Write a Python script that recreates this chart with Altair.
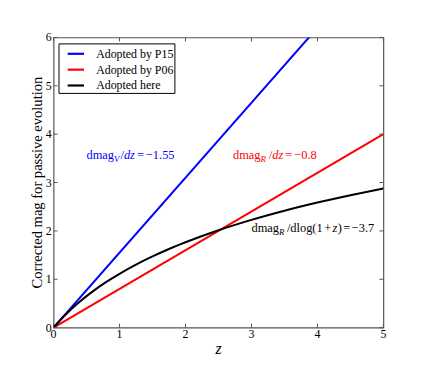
import altair as alt
import pandas as pd

# ---------------- data ----------------
series_names = ["Adopted by P15", "Adopted by P06", "Adopted here"]
series_colors = ["#0000ff", "#ff0000", "#000000"]

p15_z = [0.0, 5.0]
p15_mag = [0.0, 7.75]

p06_z = [0.0, 5.0]
p06_mag = [0.0, 4.0]

here_z = [0.0, 0.1, 0.2, 0.3, 0.4, 0.5, 0.6, 0.8, 1.0, 1.25, 1.5, 1.75,
          2.0, 2.5, 3.0, 3.5, 4.0, 4.5, 5.0]
here_mag = [0.0, 0.153, 0.293, 0.422, 0.541, 0.652, 0.755, 0.945, 1.114,
            1.303, 1.472, 1.626, 1.765, 2.013, 2.228, 2.417, 2.586, 2.739, 2.879]

x_ticks = [0, 1, 2, 3, 4, 5]
y_ticks = [0, 1, 2, 3, 4, 5, 6]
x_title = "z"
y_title = "Corrected mag for passive evolution"

# annotations: anchor (z, mag), colour, segments (text, italic, subscript, gap before in px)
ann_anchor_z = [0.50, 2.72, 3.00]
ann_anchor_mag = [3.56, 3.56, 2.05]
ann_colors = ["#0000ff", "#ff0000", "#000000"]
ann_segments = [
    [("dmag", False, False, 0), ("V", True, True, 0), ("/", False, False, 1),
     ("dz", True, False, 0), ("=", False, False, 2), ("\u22121.55", False, False, 2)],
    [("dmag", False, False, 0), ("R", True, True, 0), ("/", False, False, 3),
     ("dz", True, False, 0), ("=", False, False, 2), ("\u22120.8", False, False, 2)],
    [("dmag", False, False, 0), ("R", True, True, 0), ("/dlog(1", False, False, 2.5),
     ("+", False, False, 1.5), ("z", True, False, 1.5), (")", False, False, 0.3),
     ("=", False, False, 1.5), ("\u22123.7", False, False, 1.5)],
]

# ---------------- layout ----------------
W, H = 333, 293
FONT = "Liberation Serif"
FRAME = "#555555"

rows = []
for name, zs, ms in [(series_names[0], p15_z, p15_mag),
                     (series_names[1], p06_z, p06_mag),
                     (series_names[2], here_z, here_mag)]:
    for z, m in zip(zs, ms):
        rows.append({"series": name, "z": z, "mag": m})
df = pd.DataFrame(rows)

xscale = alt.Scale(domain=[0, 5], nice=False, zero=False)
yscale = alt.Scale(domain=[0, 6], nice=False, zero=False)

lines = alt.Chart(df).mark_line(strokeWidth=2, clip=True, interpolate="monotone").encode(
    x=alt.X("z:Q", scale=xscale, axis=None),
    y=alt.Y("mag:Q", scale=yscale, axis=None),
    color=alt.Color("series:N",
                    scale=alt.Scale(domain=series_names, range=series_colors),
                    sort=series_names,
                    legend=alt.Legend(title=None, orient="none", legendX=5, legendY=6,
                                      symbolType="M-1,0H1", symbolSize=272,
                                      symbolStrokeWidth=2.2, symbolOffset=7,
                                      labelFont=FONT, labelFontSize=12,
                                      labelColor="black",
                                      labelOffset=11, rowPadding=0, padding=1,
                                      strokeColor="black", fillColor="white",
                                      cornerRadius=0)),
    order=alt.Order("z:Q"),
)

# inward tick marks on all four sides + tick labels
xt = pd.DataFrame({"v": x_ticks, "lab": [str(v) for v in x_ticks]})
yt = pd.DataFrame({"v": y_ticks, "lab": [str(v) for v in y_ticks]})
tick_layers = [
    alt.Chart(xt).mark_rule(color=FRAME, strokeWidth=1).encode(
        x=alt.X("v:Q", scale=xscale), y=alt.value(H), y2=alt.value(H - 4)),
    alt.Chart(xt).mark_rule(color=FRAME, strokeWidth=1).encode(
        x=alt.X("v:Q", scale=xscale), y=alt.value(0), y2=alt.value(4)),
    alt.Chart(yt).mark_rule(color=FRAME, strokeWidth=1).encode(
        y=alt.Y("v:Q", scale=yscale), x=alt.value(0), x2=alt.value(4)),
    alt.Chart(yt).mark_rule(color=FRAME, strokeWidth=1).encode(
        y=alt.Y("v:Q", scale=yscale), x=alt.value(W), x2=alt.value(W - 4)),
    alt.Chart(xt).mark_text(font=FONT, fontSize=12, color="black",
                            align="center", baseline="middle").encode(
        x=alt.X("v:Q", scale=xscale), y=alt.value(H + 6), text="lab:N"),
    alt.Chart(yt).mark_text(font=FONT, fontSize=12, color="black",
                            align="right", baseline="middle").encode(
        y=alt.Y("v:Q", scale=yscale), x=alt.value(-2), text="lab:N"),
    alt.Chart(pd.DataFrame({"t": [x_title]})).mark_text(
        font=FONT, fontSize=16, fontStyle="italic", color="black",
        align="center", baseline="middle").encode(
        x=alt.value(W / 2), y=alt.value(H + 22), text="t:N"),
    alt.Chart(pd.DataFrame({"t": [y_title]})).mark_text(
        font=FONT, fontSize=14.7, color="black", angle=270,
        align="center", baseline="middle").encode(
        x=alt.value(-16), y=alt.value(H / 2), text="t:N"),
]

# approximate Times glyph widths (per 1000 em) for placing text segments
ROMAN = {"d": 500, "m": 778, "a": 444, "g": 500, "/": 278, "l": 278, "o": 500,
         "(": 333, ")": 333, "+": 564, "=": 564, "\u2212": 564, "1": 500,
         ".": 250, "5": 500, "0": 500, "8": 500, "3": 500, "7": 500}
ITALIC = {"V": 611, "R": 611, "d": 500, "z": 389}

FS = 12.5
SUB_FS = 9
ann_layers = []
for az, am, col, segs in zip(ann_anchor_z, ann_anchor_mag, ann_colors, ann_segments):
    dx = 0.0
    for text, ital, sub, gap in segs:
        dx += gap
        fs = SUB_FS if sub else FS
        table = ITALIC if ital else ROMAN
        seg_df = pd.DataFrame({"z": [az], "mag": [am], "t": [text]})
        ann_layers.append(
            alt.Chart(seg_df).mark_text(
                align="left", baseline="middle", font=FONT, fontSize=fs,
                fontStyle="italic" if ital else "normal", color=col,
                dx=dx, dy=4 if sub else 0,
            ).encode(x=alt.X("z:Q", scale=xscale), y=alt.Y("mag:Q", scale=yscale),
                     text="t:N")
        )
        dx += sum(table.get(c, 500) for c in text) * fs / 1000.0

chart = alt.layer(lines, *tick_layers, *ann_layers).properties(
    width=W, height=H,
    autosize=alt.AutoSizeParams(type="none"),
    padding={"left": 46, "top": 28, "right": 40, "bottom": 40},
).configure_view(stroke=FRAME, strokeWidth=1.2)

chart.save("out.html", embed_options={"renderer": "svg", "actions": False})
